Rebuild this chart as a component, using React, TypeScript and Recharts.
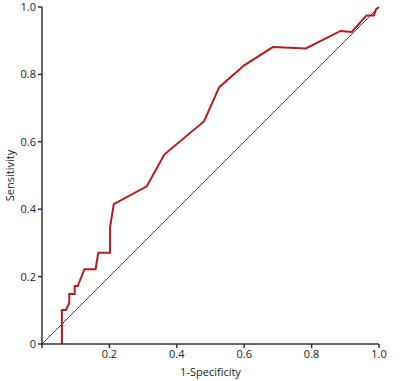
import { LineChart, Line, XAxis, YAxis } from "recharts";

// ROC curve (1-specificity, sensitivity)
const fpr = [
  0.059, 0.059, 0.071, 0.081, 0.081, 0.097, 0.097, 0.106, 0.126, 0.159, 0.167,
  0.202, 0.202, 0.213, 0.311, 0.363, 0.481, 0.526, 0.6, 0.685, 0.783, 0.886,
  0.919, 0.963, 0.985, 0.991, 1.0,
];
const tpr = [
  0, 0.101, 0.101, 0.122, 0.148, 0.148, 0.172, 0.172, 0.222, 0.222, 0.271,
  0.271, 0.346, 0.415, 0.468, 0.562, 0.661, 0.762, 0.827, 0.881, 0.877, 0.929,
  0.926, 0.975, 0.975, 0.993, 1.0,
];
const refX = [0, 1];
const refY = [0, 1];
const xTicks = [0, 0.2, 0.4, 0.6, 0.8, 1.0];
const yTicks = [0, 0.2, 0.4, 0.6, 0.8, 1.0];

const rocData = fpr.map((x, i) => ({ x, y: tpr[i] }));
const diagData = refX.map((x, i) => ({ x, y: refY[i] }));

const fmt = (v: number) => (v === 0 ? "0" : v.toFixed(1));
const tickStyle = { fontSize: 11, fill: "#222", fontFamily: "Open Sans" };

export default function App() {
  return (
    <div style={{ position: "absolute", left: 0, top: 0, background: "#fff" }}>
      <LineChart
        width={400}
        height={381}
        margin={{ top: 7, right: 21, left: 0, bottom: 0 }}
      >
        <XAxis
          type="number"
          dataKey="x"
          domain={[0, 1]}
          ticks={xTicks}
          tickFormatter={(v: number) => (v === 0 ? "" : fmt(v))}
          height={37}
          tick={tickStyle}
          tickSize={4}
          stroke="#333"
          strokeWidth={1.5}
          allowDuplicatedCategory={false}
          label={{
            value: "1-Specificity",
            position: "insideBottom",
            offset: 5,
            style: { fontSize: 11, fill: "#222", fontFamily: "Open Sans" },
          }}
        />
        <YAxis
          type="number"
          domain={[0, 1]}
          ticks={yTicks}
          tickFormatter={fmt}
          width={42}
          tick={tickStyle}
          tickSize={4}
          stroke="#333"
          strokeWidth={1.5}
          label={{
            value: "Sensitivity",
            angle: -90,
            position: "insideLeft",
            offset: 10,
            style: {
              fontSize: 11,
              fill: "#222",
              fontFamily: "Open Sans",
              textAnchor: "middle",
            },
          }}
        />
        <Line
          data={diagData}
          dataKey="y"
          type="linear"
          stroke="#444"
          strokeWidth={1}
          dot={false}
          isAnimationActive={false}
        />
        <Line
          data={rocData}
          dataKey="y"
          type="linear"
          stroke="#b71c1c"
          strokeWidth={2}
          dot={false}
          isAnimationActive={false}
        />
      </LineChart>
    </div>
  );
}
